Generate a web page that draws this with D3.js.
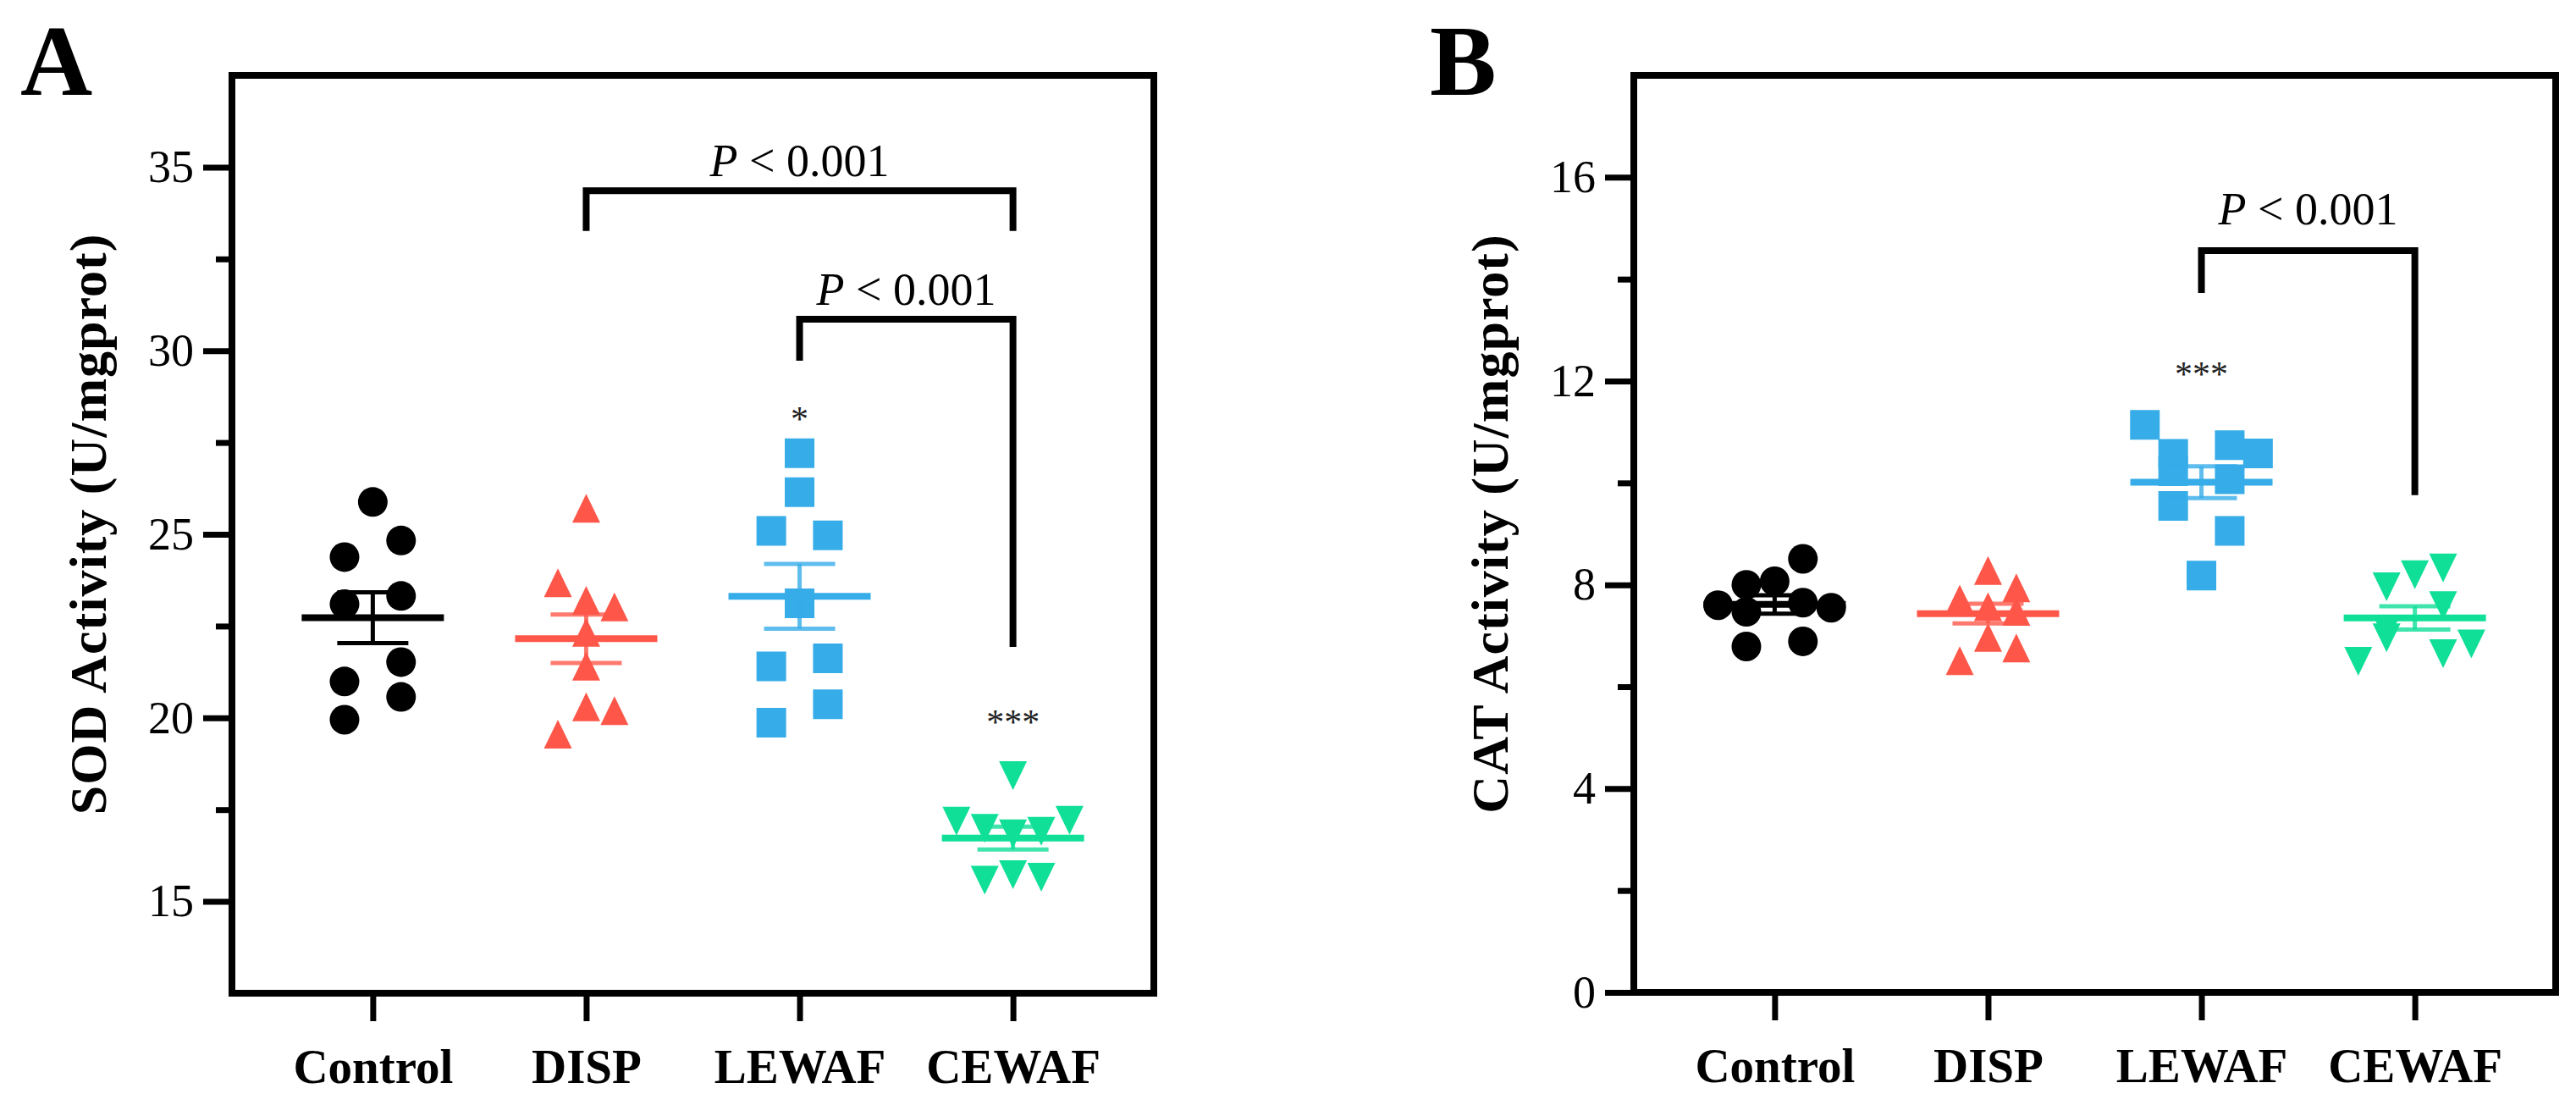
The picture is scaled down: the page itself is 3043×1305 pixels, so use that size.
<!DOCTYPE html>
<html><head><meta charset="utf-8">
<script src="https://cdn.jsdelivr.net/npm/d3@7"></script>
<style>
body{margin:0;background:#fff}
svg{display:block}
text{font-family:"Palatino Linotype","Book Antiqua",Palatino,"Liberation Serif","DejaVu Serif",serif}
</style>
</head><body>
<svg id="chart" width="3043" height="1305"></svg>
<script>
// ---------- data ----------
const categories = ["Control", "DISP", "LEWAF", "CEWAF"];

// Panel A: SOD activity (U/mgprot), one value per sample
const sodControl = [23.32, 20.57, 25.88, 24.83, 21.52, 23.10, 19.95, 24.38, 20.99];
const sodDisp    = [25.71, 23.20, 22.33, 23.02, 20.30, 21.41, 20.20, 23.68, 19.56];
const sodLewaf   = [27.21, 24.97, 23.12, 21.62, 26.15, 20.37, 25.09, 21.40, 19.87];
const sodCewaf   = [16.84, 18.43, 16.91, 15.73, 16.99, 15.66, 17.21, 15.58, 17.19];

// Panel B: CAT activity (U/mgprot)
const catControl = [8.07, 7.65, 6.89, 8.51, 7.47, 8.00, 7.55, 6.79, 7.60];
const catDisp    = [8.28, 7.57, 6.97, 7.94, 7.48, 6.76, 7.72, 7.69, 6.51];
const catLewaf   = [10.74, 10.07, 9.06, 10.57, 8.18, 10.23, 10.58, 9.55, 11.14];
const catCewaf   = [8.20, 7.59, 6.65, 8.33, 6.96, 7.13, 7.96, 6.84, 6.50];

// axis ticks
const sodDomain = [12.5, 37.5];
const sodTicks  = [15, 20, 25, 30, 35];
const sodMinor  = [17.5, 22.5, 27.5, 32.5];
const catDomain = [0, 18];
const catTicks  = [0, 4, 8, 12, 16];
const catMinor  = [2, 6, 10, 14];

// significance annotations (values in axis units)
const sodBrackets = [
  {from: "DISP",  to: "CEWAF", top: 34.36, leftEnd: 33.26, rightEnd: 33.26, textAt: 34.76, text: "P < 0.001"},
  {from: "LEWAF", to: "CEWAF", top: 30.86, leftEnd: 29.73, rightEnd: 21.93, textAt: 31.25, text: "P < 0.001"}
];
const sodStars = [
  {cat: "LEWAF", at: 28.30, text: "*"},
  {cat: "CEWAF", at: 20.04, text: "***"}
];
const catBrackets = [
  {from: "LEWAF", to: "CEWAF", top: 14.56, leftEnd: 13.73, rightEnd: 9.76, textAt: 15.07, text: "P < 0.001"}
];
const catStars = [
  {cat: "LEWAF", at: 12.25, text: "***"}
];

// ---------- styling / layout ----------
const colors = ["#000000", "#FE574A", "#36ACE8", "#10DF98"];
const shapes = ["circle", "triangle", "square", "triangleDown"];

const panels = [
  {label: "A", title: "SOD Activity (U/mgprot)", groups: [sodControl, sodDisp, sodLewaf, sodCewaf],
   domain: sodDomain, ticks: sodTicks, minor: sodMinor, brackets: sodBrackets, stars: sodStars,
   left: 274, right: 1363, top: 89, bottom: 1173, labelX: 24, titleX: 125},
  {label: "B", title: "CAT Activity (U/mgprot)", groups: [catControl, catDisp, catLewaf, catCewaf],
   domain: catDomain, ticks: catTicks, minor: catMinor, brackets: catBrackets, stars: catStars,
   left: 1930, right: 3019, top: 89, bottom: 1172, labelX: 1689, titleX: 1781}
];

const MARK = 35;     // marker size px
const STEP = 33.4;   // horizontal spread step
const FRAME_W = 8;

function markerPath(shape) {
  const h = MARK / 2;
  if (shape === "circle") return d3.symbol(d3.symbolCircle, Math.PI * h * h)();
  if (shape === "square") return `M${-h},${-h}H${h}V${h}H${-h}Z`;
  const w = 16.5, t = 17;
  if (shape === "triangle") return `M0,${-t}L${w},${t}L${-w},${t}Z`;
  return `M0,${t}L${w},${-t}L${-w},${-t}Z`;
}

// column-scatter layout: rows of marker height, points in a row spread symmetrically
function swarmOffsets(values, y) {
  const order = d3.range(values.length).sort((a, b) => d3.descending(values[a], values[b]));
  const bins = [];
  order.forEach(i => {
    const py = y(values[i]);
    const last = bins[bins.length - 1];
    if (last && py - last.top < MARK) last.items.push(i);
    else bins.push({top: py, items: [i]});
  });
  const off = new Array(values.length).fill(0);
  bins.forEach(b => {
    const items = b.items.slice().sort(d3.ascending);
    const n = items.length;
    items.forEach((idx, k) => {
      let slot;
      if (n % 2) slot = k === 0 ? 0 : (k % 2 ? 1 : -1) * Math.ceil(k / 2);
      else slot = (k % 2 === 0 ? 1 : -1) * (Math.floor(k / 2) + 1);
      off[idx] = slot * STEP;
    });
  });
  return off;
}

const svg = d3.select("#chart");

panels.forEach(p => {
  const g = svg.append("g");
  const x = d3.scalePoint().domain(categories).range([p.left, p.right]).padding(0.66);
  const y = d3.scaleLinear().domain(p.domain).range([p.bottom, p.top]);

  // minor ticks
  const minorAxis = d3.axisLeft(y).tickValues(p.minor).tickSize(19).tickFormat("");
  const gm = g.append("g").attr("transform", `translate(${p.left},0)`).call(minorAxis);
  gm.select(".domain").remove();
  gm.selectAll(".tick line").attr("stroke", "#000").attr("stroke-width", 7);

  // major ticks
  const yAxis = d3.axisLeft(y).tickValues(p.ticks).tickSize(34).tickPadding(11).tickFormat(d3.format("d"));
  const gy = g.append("g").attr("transform", `translate(${p.left},0)`).call(yAxis);
  gy.select(".domain").remove();
  gy.selectAll(".tick line").attr("stroke", "#000").attr("stroke-width", 7);
  gy.selectAll(".tick text").attr("font-size", 54).attr("fill", "#000")
    .style("font-family", '"Palatino Linotype","Book Antiqua",Palatino,"Liberation Serif",serif');

  // x axis
  const xAxis = d3.axisBottom(x).tickSize(33).tickPadding(33);
  const gx = g.append("g").attr("transform", `translate(0,${p.bottom})`).call(xAxis);
  gx.select(".domain").remove();
  gx.selectAll(".tick line").attr("stroke", "#000").attr("stroke-width", 7);
  gx.selectAll(".tick text").attr("font-size", 57).attr("font-weight", "bold").attr("fill", "#000")
    .style("font-family", '"Palatino Linotype","Book Antiqua",Palatino,"Liberation Serif",serif');

  // frame
  g.append("rect").attr("x", p.left).attr("y", p.top)
    .attr("width", p.right - p.left).attr("height", p.bottom - p.top)
    .attr("fill", "none").attr("stroke", "#000").attr("stroke-width", FRAME_W);

  // points
  p.groups.forEach((vals, gi) => {
    const cx = x(categories[gi]);
    const offs = swarmOffsets(vals, y);
    g.append("g").selectAll("path").data(vals).join("path")
      .attr("d", markerPath(shapes[gi]))
      .attr("transform", (d, i) => `translate(${cx + offs[i]},${y(d)})`)
      .attr("fill", colors[gi]);
  });

  // mean +/- SEM
  p.groups.forEach((vals, gi) => {
    const cx = x(categories[gi]);
    const m = d3.mean(vals);
    const sem = d3.deviation(vals) / Math.sqrt(vals.length);
    const c = colors[gi];
    const semOpacity = gi === 0 ? 1 : 0.8;
    const eg = g.append("g").attr("stroke", c);
    eg.append("line").attr("x1", cx).attr("x2", cx).attr("y1", y(m + sem)).attr("y2", y(m - sem))
      .attr("stroke-width", 5).attr("stroke-opacity", semOpacity);
    [m + sem, m - sem].forEach(v => {
      eg.append("line").attr("x1", cx - 42).attr("x2", cx + 42).attr("y1", y(v)).attr("y2", y(v))
        .attr("stroke-width", 5).attr("stroke-opacity", semOpacity);
    });
    eg.append("line").attr("x1", cx - 84).attr("x2", cx + 84).attr("y1", y(m)).attr("y2", y(m)).attr("stroke-width", 8);
  });

  // brackets
  p.brackets.forEach(b => {
    const xa = x(b.from), xb = x(b.to);
    const path = d3.path();
    path.moveTo(xa, y(b.leftEnd));
    path.lineTo(xa, y(b.top));
    path.lineTo(xb, y(b.top));
    path.lineTo(xb, y(b.rightEnd));
    g.append("path").attr("d", path.toString()).attr("fill", "none")
      .attr("stroke", "#000").attr("stroke-width", 8).attr("stroke-linejoin", "miter");
    const t = g.append("text").attr("x", (xa + xb) / 2).attr("y", y(b.textAt))
      .attr("text-anchor", "middle").attr("font-size", 54).attr("fill", "#000");
    t.append("tspan").attr("font-style", "italic").text(b.text.slice(0, 1));
    t.append("tspan").text(b.text.slice(1));
  });

  // stars
  p.stars.forEach(s => {
    g.append("text").attr("x", x(s.cat)).attr("y", y(s.at)).attr("dy", "0.5em")
      .attr("text-anchor", "middle").attr("font-size", 42).attr("fill", "#222").text(s.text);
  });

  // y title
  g.append("text").attr("transform", `translate(${p.titleX},${(p.top + p.bottom) / 2 - 12}) rotate(-90)`)
    .attr("text-anchor", "middle").attr("font-size", 62).attr("font-weight", "bold")
    .attr("letter-spacing", 1).attr("fill", "#000").text(p.title);

  // panel label
  g.append("text").attr("x", p.labelX).attr("y", 112).attr("font-size", 118)
    .attr("font-weight", "bold").attr("fill", "#000").text(p.label);
});
</script>
</body></html>
